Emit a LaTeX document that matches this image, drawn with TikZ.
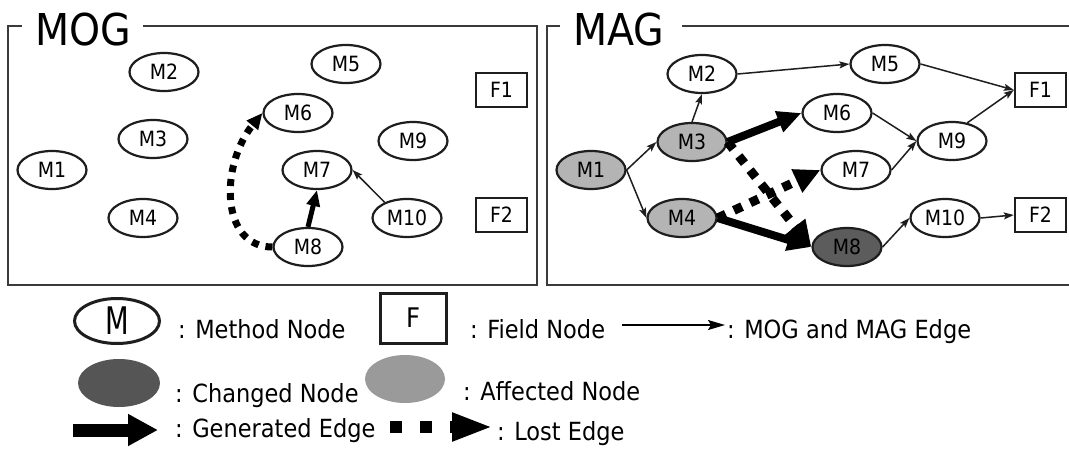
\documentclass[tikz,border=0pt]{standalone}
\usepackage{fontspec}
\setmainfont[FakeStretch=0.9]{DejaVu Sans}
\usetikzlibrary{shapes.geometric,arrows.meta}
\definecolor{affgray}{HTML}{B4B4B4}
\definecolor{chgdark}{HTML}{5C5C5C}
\definecolor{legchg}{HTML}{555555}
\definecolor{legaff}{HTML}{9A9A9A}
\definecolor{framec}{HTML}{3A3A3A}
\definecolor{inkc}{HTML}{1E1E1E}
\begin{document}
\begin{tikzpicture}[x=1pt,y=-1pt,
  mnode/.style={ellipse,draw=inkc,line width=2.2pt,minimum width=69pt,minimum height=38pt,inner sep=0pt,font=\fontsize{21}{24}\selectfont},
  fnode/.style={rectangle,draw=inkc,line width=2.4pt,minimum width=51pt,minimum height=34pt,inner sep=0pt,font=\fontsize{21}{24}\selectfont},
  affnode/.style={mnode,fill=affgray},
  chgnode/.style={mnode,fill=chgdark},
  frame/.style={draw=framec,line width=1.6pt},
  title/.style={anchor=base west,inner sep=0pt,font=\fontsize{43.9}{48}\selectfont},
  edge/.style={draw=inkc,line width=1.5pt,-{Stealth[length=10pt,width=7pt,inset=2pt]}},
  genO/.style={line width=5pt,-{Triangle[length=16pt,width=13pt]}},
  lostO/.style={line width=7pt,dash pattern=on 7pt off 7pt,-{Triangle[length=16pt,width=14pt]}},
  genA/.style={line width=8pt,-{Triangle[length=24pt,width=21pt]}},
  lostA/.style={line width=9pt,dash pattern=on 9pt off 9pt,-{Triangle[length=26pt,width=24pt]}},
  legtext/.style={anchor=base west,inner sep=0pt,font=\fontsize{25}{30}\selectfont}
]
\useasboundingbox (0,0) rectangle (1069,450);
\fill[white] (0,0) rectangle (1069,450);

% ---------- MOG panel ----------
\draw[frame] (22,26) -- (8,26) -- (8,285) -- (537,285) -- (537,26) -- (143,26);
\node[title] (tMOG) at (35,45) {MOG};
\node[mnode] (oM1) at (52,170) {M1};
\node[mnode] (oM2) at (164,72) {M2};
\node[mnode] (oM3) at (153,139) {M3};
\node[mnode] (oM4) at (143,218) {M4};
\node[mnode] (oM5) at (346,64) {M5};
\node[mnode] (oM6) at (298,113) {M6};
\node[mnode] (oM7) at (317,170) {M7};
\node[mnode] (oM8) at (308,247) {M8};
\node[mnode] (oM9) at (413,141) {M9};
\node[mnode] (oM10) at (407,218) {M10};
\node[fnode] (oF1) at (501.5,90) {F1};
\node[fnode] (oF2) at (501.5,215) {F2};
\draw[edge] (oM10.145) -- (oM7.east);
\draw[genO] (oM8.north) -- (oM7.south);
\draw[lostO] (oM8.west) .. controls (220,247) and (220,165) .. (oM6.west);

% ---------- MAG panel ----------
\draw[frame] (560,26) -- (547,26) -- (547,285) -- (1075,285);
\draw[frame] (682,26) -- (1075,26);
\node[title] (tMAG) at (573,45) {MAG};
\node[affnode] (gM1) at (591,170) {M1};
\node[mnode] (gM2) at (702,74) {M2};
\node[affnode] (gM3) at (692,142) {M3};
\node[affnode] (gM4) at (682,218) {M4};
\node[mnode] (gM5) at (885,64) {M5};
\node[mnode] (gM6) at (837,113) {M6};
\node[mnode] (gM7) at (856,170) {M7};
\node[chgnode] (gM8) at (847,247) {M8};
\node[mnode] (gM9) at (952,141) {M9};
\node[mnode] (gM10) at (945,218) {M10};
\node[fnode] (gF1) at (1040.5,90) {F1};
\node[fnode] (gF2) at (1040.5,215) {F2};
\draw[edge] (gM1.east) -- (gM3.west);
\draw[edge] (gM1.east) -- (gM4.west);
\draw[edge] (gM3.north) -- (gM2.south);
\draw[edge] (gM2.east) -- (gM5.west);
\draw[edge] (gM5.east) -- (gF1.west);
\draw[edge] (gM9.50) -- (gF1.west);
\draw[edge] (gM6.east) -- (gM9.west);
\draw[edge] (gM7.east) -- (gM9.west);
\draw[edge] (gM8.east) -- (gM10.west);
\draw[edge] (gM10.east) -- (gF2.west);
\draw[lostA] (gM3.east) -- (gM8.west);
\draw[lostA] (gM4.east) -- (gM7.west);
\draw[genA] (gM3.east) -- (gM6.west);
\draw[genA] (gM4.east) -- (gM8.west);

% ---------- legend ----------
\node[ellipse,draw=inkc,line width=3pt,minimum width=85pt,minimum height=45pt,inner sep=0pt] (lM) at (117,321)
  {\scalebox{0.8}[1]{\fontsize{38}{42}\selectfont M}};
\node[legtext] (lMt) at (178,338) {: Method Node};
\node[rectangle,draw=inkc,line width=3pt,minimum width=66pt,minimum height=50pt,inner sep=0pt,font=\fontsize{27}{30}\selectfont] (lF) at (413,318) {F};
\node[legtext] (lFt) at (470,338) {: Field Node};
\coordinate (la) at (622,325);
\coordinate (lb) at (725,325);
\draw[line width=1.5pt,-{Stealth[length=17pt,width=10pt,inset=3pt]}] (la) -- (lb);
\node[legtext] (lEt) at (727,338) {: MOG and MAG Edge};

\node[ellipse,fill=legchg,minimum width=82pt,minimum height=48pt,inner sep=0pt] (lC) at (119,383) {};
\node[legtext] (lCt) at (175,402) {: Changed Node};
\node[ellipse,fill=legaff,minimum width=80pt,minimum height=48pt,inner sep=0pt] (lA) at (405,379) {};
\node[legtext] (lAt) at (463,400) {: Affected Node};

\coordinate (lg1) at (73,430);
\coordinate (lg2) at (158,430);
\draw[line width=13pt,-{Triangle[length=30pt,width=30pt]}] (lg1) -- (lg2);
\node[legtext] (lGt) at (175,437) {: Generated Edge};
\coordinate (ll1) at (390,427);
\coordinate (ll2) at (493,427);
\draw[line width=12pt,dash pattern=on 12pt off 18pt,-{Triangle[length=41pt,width=26pt]}] (ll1) -- (ll2);
\node[legtext] (lLt) at (497,440) {: Lost Edge};
\end{tikzpicture}
\end{document}
